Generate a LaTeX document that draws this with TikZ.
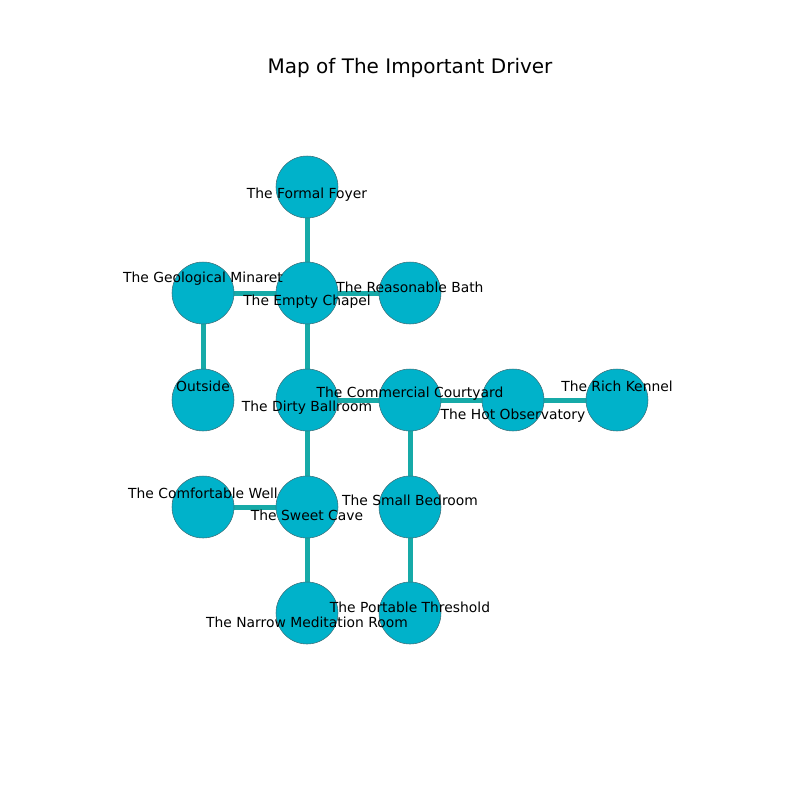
\documentclass[tikz,border=0pt]{standalone}
\usepackage{fontspec}
\setmainfont{DejaVu Sans}
\usetikzlibrary{backgrounds}
\definecolor{nodefill}{RGB}{0,178,202}
\definecolor{nodeline}{RGB}{60,110,120}
\definecolor{edgecol}{RGB}{22,170,168}
\begin{document}
\begin{tikzpicture}[x=0.75pt,y=-0.75pt,
  room/.style={circle,fill=nodefill,draw=nodeline,line width=0.4pt,minimum size=46.5pt,inner sep=0pt},
  lbl/.style={font=\fontsize{10.4}{12}\selectfont,text=black,inner sep=0pt,anchor=center},
  link/.style={draw=edgecol,line width=3.75pt}]
\useasboundingbox (0,0) rectangle (800,800);
\node[font=\fontsize{15}{17}\selectfont,inner sep=0pt] (title) at (410,68) {Map of The Important Driver};
% rooms
\node[room] (foyer) at (307,187) {};
\node[room] (chapel) at (307,293) {};
\node[room] (minaret) at (203,293) {};
\node[room] (bath) at (410,293) {};
\node[room] (outside) at (203,400) {};
\node[room] (ballroom) at (307,400) {};
\node[room] (courtyard) at (410,400) {};
\node[room] (observatory) at (513,400) {};
\node[room] (kennel) at (617,400) {};
\node[room] (well) at (203,507) {};
\node[room] (cave) at (307,507) {};
\node[room] (bedroom) at (410,507) {};
\node[room] (narrow) at (307,613) {};
\node[room] (threshold) at (410,613) {};
% links
\begin{scope}[on background layer]
\draw[link] (foyer.center) -- (chapel.center);
\draw[link] (minaret.center) -- (chapel.center);
\draw[link] (chapel.center) -- (bath.center);
\draw[link] (minaret.center) -- (outside.center);
\draw[link] (chapel.center) -- (ballroom.center);
\draw[link] (ballroom.center) -- (courtyard.center);
\draw[link] (courtyard.center) -- (observatory.center);
\draw[link] (observatory.center) -- (kennel.center);
\draw[link] (courtyard.center) -- (bedroom.center);
\draw[link] (ballroom.center) -- (cave.center);
\draw[link] (well.center) -- (cave.center);
\draw[link] (cave.center) -- (narrow.center);
\draw[link] (bedroom.center) -- (threshold.center);
\end{scope}
% labels
\node[lbl] (lfoyer) at (307,195) {The Formal Foyer};
\node[lbl] (lminaret) at (203,279) {The Geological Minaret};
\node[lbl] (lchapel) at (307,302) {The Empty Chapel};
\node[lbl] (lbath) at (410,287) {The Reasonable Bath};
\node[lbl] (loutside) at (203,386) {Outside};
\node[lbl] (lballroom) at (307,408) {The Dirty Ballroom};
\node[lbl] (lcourtyard) at (410,394) {The Commercial Courtyard};
\node[lbl] (lobservatory) at (513,416) {The Hot Observatory};
\node[lbl] (lkennel) at (617,386) {The Rich Kennel};
\node[lbl] (lwell) at (203,493) {The Comfortable Well};
\node[lbl] (lcave) at (307,515) {The Sweet Cave};
\node[lbl] (lbedroom) at (410,500) {The Small Bedroom};
\node[lbl] (lnarrow) at (307,622) {The Narrow Meditation Room};
\node[lbl] (lthreshold) at (410,607) {The Portable Threshold};
\end{tikzpicture}
\end{document}
